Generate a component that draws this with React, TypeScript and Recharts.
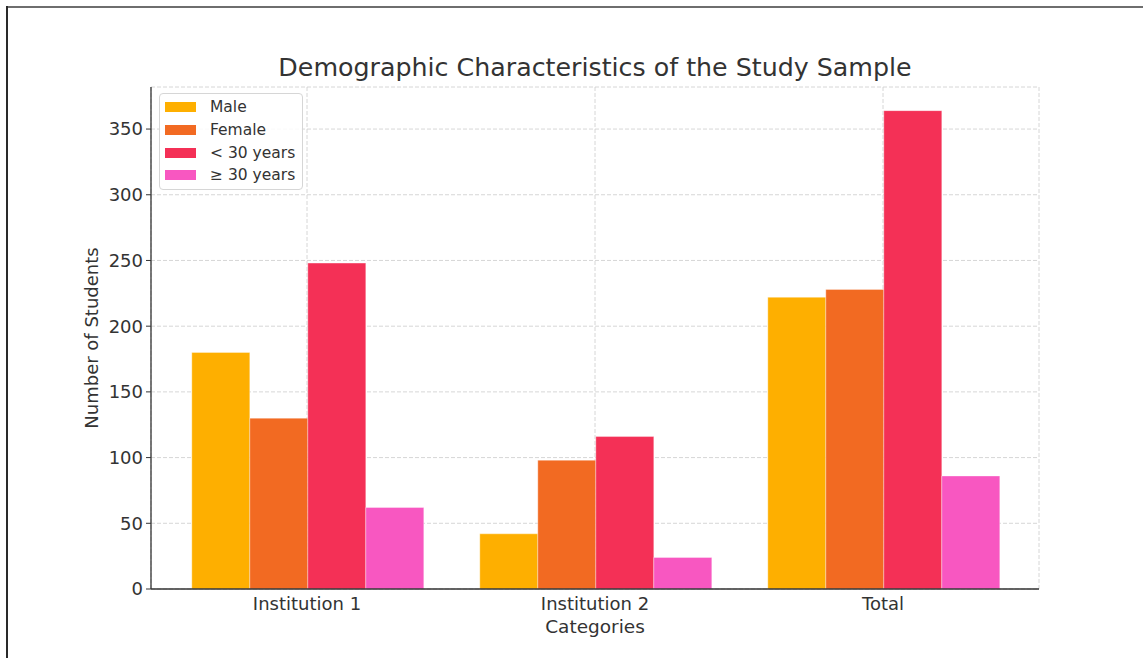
import React from "react";
import { BarChart, Bar, XAxis, YAxis, CartesianGrid } from "recharts";

const categories = ["Institution 1", "Institution 2", "Total"];
const male = [180, 42, 222];
const female = [130, 98, 228];
const under30 = [248, 116, 364];
const over30 = [62, 24, 86];
const yTicks = [0, 50, 100, 150, 200, 250, 300, 350];

const seriesInfo = [
  { key: "male", name: "Male", color: "#FEAF00" },
  { key: "female", name: "Female", color: "#F26A22" },
  { key: "under30", name: "< 30 years", color: "#F43056" },
  { key: "over30", name: "≥ 30 years", color: "#F857C1" },
];

const data = categories.map((c, i) => ({
  category: c,
  male: male[i],
  female: female[i],
  under30: under30[i],
  over30: over30[i],
}));

const FONT = "'DejaVu Sans', sans-serif";
const TEXT = "#333333";

function LegendBox() {
  return (
    <div
      style={{
        position: "absolute",
        left: 159,
        top: 93,
        width: 144,
        boxSizing: "border-box",
        border: "1px solid #d6d6d6",
        borderRadius: 4,
        background: "rgba(255,255,255,0.85)",
        padding: "2px 5px",
        fontSize: 15.5,
        color: TEXT,
      }}
    >
      {seriesInfo.map((s) => (
        <div
          key={s.key}
          style={{ display: "flex", alignItems: "center", height: 22.7 }}
        >
          <span
            style={{
              display: "inline-block",
              width: 31,
              height: 10,
              background: s.color,
              marginRight: 14,
            }}
          />
          <span>{s.name}</span>
        </div>
      ))}
    </div>
  );
}

export default function App() {
  return (
    <div
      style={{
        position: "absolute",
        left: 0,
        top: 0,
        width: 1143,
        height: 658,
        background: "#fff",
        fontFamily: FONT,
        overflow: "hidden",
      }}
    >
      <div
        style={{
          position: "absolute",
          left: 6,
          top: 6,
          right: 0,
          height: 0,
          borderTop: "2px solid #6e6e6e",
        }}
      />
      <div
        style={{
          position: "absolute",
          left: 6,
          top: 6,
          bottom: 0,
          width: 0,
          borderLeft: "2px solid #2a2a2a",
        }}
      />
      <div
        style={{
          position: "absolute",
          left: 0,
          width: 1190,
          top: 53,
          textAlign: "center",
          fontSize: 25.3,
          color: TEXT,
          lineHeight: "30px",
        }}
      >
        Demographic Characteristics of the Study Sample
      </div>
      <div
        style={{
          position: "absolute",
          left: 92 - 150,
          top: 338 - 12,
          width: 300,
          height: 24,
          lineHeight: "24px",
          textAlign: "center",
          fontSize: 18,
          color: TEXT,
          transform: "rotate(-90deg)",
        }}
      >
        Number of Students
      </div>
      <div
        style={{
          position: "absolute",
          left: 445,
          width: 300,
          top: 614,
          lineHeight: "26px",
          textAlign: "center",
          fontSize: 18.5,
          color: TEXT,
        }}
      >
        Categories
      </div>
      <BarChart
        width={1143}
        height={658}
        data={data}
        margin={{ top: 87, right: 104, left: 91, bottom: 39 }}
        barGap={0}
        barCategoryGap={28.8}
      >
        <CartesianGrid
          stroke="#cccccc"
          strokeDasharray="4 2"
          strokeWidth={0.8}
        />
        <XAxis
          dataKey="category"
          height={30}
          padding={{ left: 12, right: 12 }}
          tick={{ fontSize: 18, fill: TEXT, fontFamily: FONT }}
          tickLine={false}
          tickMargin={2}
          axisLine={{ stroke: "#333", strokeWidth: 1.3 }}
        />
        <YAxis
          width={60}
          domain={[0, 382]}
          ticks={yTicks}
          allowDataOverflow
          tick={{ fontSize: 18, fill: TEXT, fontFamily: FONT }}
          tickSize={5}
          tickMargin={3}
          tickLine={{ stroke: "#333" }}
          axisLine={{ stroke: "#333", strokeWidth: 1.3 }}
        />
        {seriesInfo.map((s) => (
          <Bar
            key={s.key}
            dataKey={s.key}
            name={s.name}
            fill={s.color}
            stroke="#ffffff"
            strokeOpacity={0.35}
            strokeWidth={1}
            isAnimationActive={false}
          />
        ))}
      </BarChart>
      <LegendBox />
    </div>
  );
}
